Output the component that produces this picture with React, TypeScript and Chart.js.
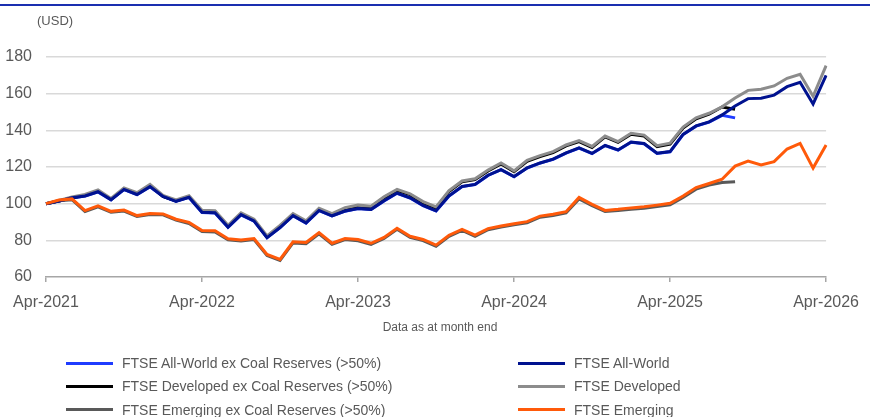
import React, { useEffect, useRef } from "react";
import { Chart, registerables } from "chart.js";

Chart.register(...registerables);

const MONTHS = ["Jan", "Feb", "Mar", "Apr", "May", "Jun", "Jul", "Aug", "Sep", "Oct", "Nov", "Dec"];
// Apr-2021 .. Apr-2026 (month end)
const categories: string[] = [];
for (let k = 0; k <= 60; k++) {
  const m = (3 + k) % 12;
  const y = 2021 + Math.floor((3 + k) / 12);
  categories.push(`${MONTHS[m]}-${y}`);
}

const yTicks = [60, 80, 100, 120, 140, 160, 180];

const allWorldEx = [
  100, 101.4, 103.1, 104.1, 106.4, 102.1, 107.7, 104.9, 109.2, 103.9, 101.2, 103.4,
  95.2, 94.9, 87.1, 93.9, 90.5, 81.4, 86.9, 93.4, 89.4, 96.2, 93.3, 95.9,
  97.3, 96.8, 101.5, 105.7, 103.1, 98.9, 96.0, 104.2, 109.3, 110.4, 115.4, 118.5,
  114.7, 119.4, 122.1, 124.2, 127.6, 130.3, 127.3, 131.7, 129.2, 133.5, 132.7, 127.4,
  128.3, 137.7, 142.3, 144.5, 148.2, 146.8,
];
const allWorld = [
  100, 101.5, 103.2, 104.2, 106.5, 102.2, 107.8, 105, 109.3, 104, 101.3, 103.5,
  95.3, 95, 87.2, 94, 90.6, 81.5, 87, 93.5, 89.5, 96.3, 93.4, 96,
  97.4, 96.9, 101.6, 105.8, 103.2, 99, 96.1, 104.3, 109.4, 110.5, 115.5, 118.6,
  114.8, 119.5, 122.2, 124.3, 127.7, 130.4, 127.4, 131.8, 129.3, 133.6, 132.8, 127.5,
  128.4, 137.8, 142.4, 144.6, 148.4, 153.3, 157.3, 157.5, 159.2, 163.8, 166.2, 154.4,
  170,
];
const developedEx = [
  100, 101.4, 103.2, 104.6, 107.0, 102.3, 108.1, 105.5, 110.0, 104.0, 101.5, 103.8,
  95.9, 95.7, 87.7, 94.5, 91.0, 81.9, 87.7, 94.1, 90.1, 97.0, 94.1, 97.3,
  98.7, 98.1, 103.3, 107.3, 104.9, 100.6, 97.7, 106.6, 111.9, 113.1, 117.8, 121.7,
  117.4, 123.1, 125.7, 127.9, 131.5, 133.9, 130.7, 136.4, 133.4, 137.9, 136.9, 131.1,
  132.5, 141.3, 146.3, 148.8, 152.7, 151.5,
];
const developed = [
  100, 101.8, 103.6, 105, 107.5, 102.8, 108.6, 106, 110.5, 104.5, 102, 104.3,
  96.4, 96.2, 88.2, 95, 91.5, 82.4, 88.2, 94.6, 90.6, 97.5, 94.6, 97.8,
  99.2, 98.6, 103.8, 107.8, 105.4, 101.1, 98.2, 107.1, 112.4, 113.6, 118.3, 122.2,
  117.9, 123.6, 126.2, 128.4, 132, 134.4, 131.2, 136.9, 133.9, 138.4, 137.4, 131.6,
  133, 141.8, 146.8, 149.3, 152.8, 157.6, 161.8, 162.4, 164.2, 168.4, 170.6, 158.6,
  175.3,
];
const emergingEx = [
  100, 101.6, 102.2, 95.7, 98.3, 95.3, 96.0, 93.0, 94.1, 93.9, 91.0, 89.2,
  84.8, 84.6, 80.3, 79.6, 80.4, 71.7, 69.0, 78.6, 78.2, 83.6, 77.8, 80.4,
  79.8, 77.8, 81.0, 86.0, 81.6, 79.9, 76.8, 82.2, 85.4, 82.2, 85.8, 87.2,
  88.5, 89.6, 92.6, 93.6, 95.0, 102.6, 98.9, 95.7, 96.3, 97.0, 97.5, 98.4,
  99.4, 103.4, 107.9, 110.2, 111.5, 112.0,
];
const emerging = [
  100, 102, 102.6, 96.2, 98.8, 95.8, 96.5, 93.5, 94.6, 94.4, 91.5, 89.8,
  85.4, 85.2, 80.9, 80.2, 81, 72.3, 69.6, 79.2, 78.8, 84.2, 78.4, 81,
  80.4, 78.4, 81.6, 86.6, 82.2, 80.5, 77.4, 82.8, 86, 82.8, 86.4, 87.8,
  89.1, 90.2, 93.2, 94.2, 95.6, 103.4, 99.6, 96.3, 96.9, 97.7, 98.3, 99.2,
  100.2, 104.2, 108.8, 111, 113.3, 120.5, 123.2, 121.1, 122.9, 129.8, 132.9, 119.4,
  132,
];

const seriesNames = [
  "FTSE All-World ex Coal Reserves (>50%)",
  "FTSE All-World",
  "FTSE Developed ex Coal Reserves (>50%)",
  "FTSE Developed",
  "FTSE Emerging ex Coal Reserves (>50%)",
  "FTSE Emerging",
];
const seriesColors = ["#1f3cff", "#00128f", "#000000", "#8c8c8c", "#595959", "#ff5a0a"];
const seriesData = [allWorldEx, allWorld, developedEx, developed, emergingEx, emerging];
const seriesOrder = [6, 2, 5, 3, 4, 1];

const FONT = "'Liberation Sans', Arial, sans-serif";
const TEXT = "#595959";

export default function App() {
  const ref = useRef<HTMLCanvasElement | null>(null);

  useEffect(() => {
    document.body.style.margin = "0";
    if (!ref.current) return;
    const chart = new Chart(ref.current, {
      type: "line",
      data: {
        labels: categories,
        datasets: seriesData.map((d, i) => ({
          label: seriesNames[i],
          data: d,
          borderColor: seriesColors[i],
          backgroundColor: seriesColors[i],
          borderWidth: 3,
          pointRadius: 0,
          pointHoverRadius: 0,
          tension: 0,
          fill: false,
          order: seriesOrder[i],
        })),
      },
      options: {
        animation: false,
        responsive: false,
        maintainAspectRatio: false,
        events: [],
        layout: { padding: { left: 0, right: 35, top: 57, bottom: 100 } },
        plugins: {
          legend: { display: false },
          tooltip: { enabled: false },
          title: { display: false },
        },
        scales: {
          x: {
            type: "category",
            offset: false,
            afterFit: (s: any) => {
              s.height = 40;
            },
            border: { display: true, color: "#a6a6a6", width: 1.5 },
            grid: {
              drawOnChartArea: false,
              drawTicks: true,
              tickLength: 5,
              color: "#a6a6a6",
              lineWidth: 1.5,
            },
            ticks: {
              autoSkip: false,
              maxRotation: 0,
              minRotation: 0,
              padding: 11,
              color: TEXT,
              font: { family: FONT, size: 16 },
              callback: (_v: any, idx: number) => (idx % 12 === 0 ? categories[idx] : null),
            },
          },
          y: {
            min: yTicks[0],
            max: yTicks[yTicks.length - 1],
            afterFit: (s: any) => {
              s.width = 46;
            },
            afterBuildTicks: (s: any) => {
              s.ticks = yTicks.map((v) => ({ value: v }));
            },
            border: { display: false },
            grid: {
              drawTicks: false,
              color: (ctx: any) => (ctx.tick && ctx.tick.value === yTicks[0] ? "rgba(0,0,0,0)" : "#d9d9d9"),
              lineWidth: 1.5,
            },
            ticks: {
              padding: 14,
              color: TEXT,
              font: { family: FONT, size: 16 },
            },
          },
        },
      },
    });
    return () => chart.destroy();
  }, []);

  const legendRows = [0, 1, 2];
  return (
    <div style={{ position: "relative", width: 870, height: 417, background: "#fff", overflow: "hidden", fontFamily: FONT }}>
      <div style={{ position: "absolute", left: 0, top: 4, width: 870, height: 1.5, background: "#1a2fb0" }} />
      <canvas ref={ref} width={870} height={417} style={{ position: "absolute", left: 0, top: 0, width: 870, height: 417 }} />
      <div style={{ position: "absolute", left: 37, top: 13.5, fontSize: 13, lineHeight: "13px", color: TEXT, whiteSpace: "nowrap" }}>(USD)</div>
      <div style={{ position: "absolute", left: 440, top: 321, fontSize: 12, lineHeight: "12px", color: TEXT, whiteSpace: "nowrap", transform: "translateX(-50%)" }}>
        Data as at month end
      </div>
      {legendRows.map((r) =>
        [0, 1].map((c) => {
          const i = r * 2 + c;
          const lineX = c === 0 ? 66 : 518;
          const cy = [363, 386.3, 409.6][r];
          return (
            <React.Fragment key={i}>
              <div style={{ position: "absolute", left: lineX, top: cy - 1.5, width: 47, height: 3, background: seriesColors[i] }} />
              <div
                style={{
                  position: "absolute",
                  left: lineX + 56,
                  top: cy - 7,
                  fontSize: 14,
                  lineHeight: "14px",
                  color: TEXT,
                  whiteSpace: "nowrap",
                }}
              >
                {seriesNames[i]}
              </div>
            </React.Fragment>
          );
        })
      )}
    </div>
  );
}
